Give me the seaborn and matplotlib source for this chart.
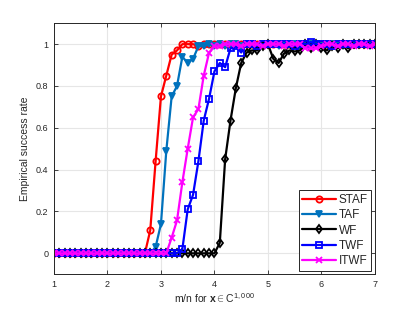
import numpy as np
import pandas as pd
import matplotlib
matplotlib.use("Agg")
import matplotlib.pyplot as plt
import seaborn as sns

m_over_n = [1.0, 1.1, 1.2, 1.3, 1.4, 1.5, 1.6, 1.7, 1.8, 1.9,
            2.0, 2.1, 2.2, 2.3, 2.4, 2.5, 2.6, 2.7, 2.8, 2.9,
            3.0, 3.1, 3.2, 3.3, 3.4, 3.5, 3.6, 3.7, 3.8, 3.9,
            4.0, 4.1, 4.2, 4.3, 4.4, 4.5, 4.6, 4.7, 4.8, 4.9,
            5.0, 5.1, 5.2, 5.3, 5.4, 5.5, 5.6, 5.7, 5.8, 5.9,
            6.0, 6.1, 6.2, 6.3, 6.4, 6.5, 6.6, 6.7, 6.8, 6.9, 7.0]

staf = [0, 0, 0, 0, 0, 0, 0, 0, 0, 0,
        0, 0, 0, 0, 0, 0, 0, 0, 0.11, 0.44,
        0.75, 0.85, 0.95, 0.97, 1.0, 1.0, 1.0, 0.99, 1.0, 1.0,
        1.0, 1.0, 1.0, 1.0, 1.0, 1.0, 1.0, 1.0, 1.0, 1.0,
        1.0, 1.0, 1.0, 1.0, 1.0, 1.0, 1.0, 1.0, 1.0, 1.0,
        1.0, 1.0, 1.0, 1.0, 1.0, 1.0, 1.0, 1.0, 1.0, 1.0, 1.0]

taf = [0, 0, 0, 0, 0, 0, 0, 0, 0, 0,
       0, 0, 0, 0, 0, 0, 0, 0, 0, 0.03,
       0.14, 0.49, 0.75, 0.80, 0.94, 0.91, 0.93, 0.99, 0.99, 1.0,
       0.99, 1.0, 0.99, 1.0, 1.0, 0.99, 1.0, 1.0, 0.99, 1.0,
       1.0, 1.0, 0.99, 1.0, 1.0, 1.0, 0.99, 1.0, 1.0, 1.0,
       0.99, 1.0, 1.0, 1.0, 0.99, 1.0, 1.0, 1.0, 1.0, 0.99, 1.0]

wf = [0, 0, 0, 0, 0, 0, 0, 0, 0, 0,
      0, 0, 0, 0, 0, 0, 0, 0, 0, 0,
      0, 0, 0, 0, 0, 0, 0, 0, 0, 0,
      0, 0.05, 0.45, 0.635, 0.79, 0.91, 0.96, 0.97, 0.97, 0.99,
      1.0, 0.93, 0.91, 0.955, 0.97, 0.965, 0.97, 1.0, 0.98, 1.0,
      0.98, 0.97, 0.99, 0.98, 1.0, 0.98, 1.0, 1.0, 1.0, 1.0, 1.0]

twf = [0, 0, 0, 0, 0, 0, 0, 0, 0, 0,
       0, 0, 0, 0, 0, 0, 0, 0, 0, 0,
       0, 0, 0, 0, 0.02, 0.21, 0.28, 0.44, 0.635, 0.74,
       0.87, 0.91, 0.89, 0.98, 0.99, 0.96, 1.0, 1.0, 0.99, 1.0,
       1.0, 1.0, 1.0, 1.0, 1.0, 0.99, 1.0, 1.0, 1.01, 1.0,
       1.0, 1.0, 0.99, 1.0, 1.0, 1.0, 1.0, 1.0, 1.0, 1.0, 1.0]

itwf = [0, 0, 0, 0, 0, 0, 0, 0, 0, 0,
        0, 0, 0, 0, 0, 0, 0, 0, 0, 0,
        0, 0, 0.075, 0.157, 0.34, 0.50, 0.65, 0.69, 0.85, 0.96,
        0.99, 0.99, 1.0, 1.0, 1.0, 0.99, 1.0, 1.0, 1.0, 0.99,
        1.0, 1.0, 1.0, 0.99, 1.0, 1.0, 1.0, 0.98, 0.98, 0.98,
        0.99, 1.0, 1.0, 0.99, 1.0, 1.0, 0.99, 1.0, 1.0, 0.99, 1.0]

series_names = ["STAF", "TAF", "WF", "TWF", "ITWF"]
series_values = [staf, taf, wf, twf, itwf]
colors = ["#FF0000", "#0072BD", "#000000", "#0000FF", "#FF00FF"]
markers = ["o", "v", "d", "s", "x"]
filled = [False, True, False, False, True]

x_ticks = [1, 2, 3, 4, 5, 6, 7]
y_ticks = [0, 0.2, 0.4, 0.6, 0.8, 1]
y_ticklabels = ["0", "0.2", "0.4", "0.6", "0.8", "1"]

sns.set_style("whitegrid")
plt.rcParams["font.family"] = ["Liberation Sans", "DejaVu Sans"]
plt.rcParams["mathtext.fontset"] = "custom"
plt.rcParams["mathtext.rm"] = "Liberation Sans"
plt.rcParams["mathtext.bf"] = "Liberation Sans:bold"

fig = plt.figure(figsize=(4.15, 3.12), dpi=100)
ax = fig.add_axes([0.130, 0.121, 0.7735, 0.8045])

for name, vals, c, m, f in zip(series_names, series_values, colors, markers, filled):
    df = pd.DataFrame({"x": m_over_n, "y": vals})
    kw = dict(color=c, marker=m, markersize=4.5 if m != "x" else 5,
              markeredgewidth=1.3, linewidth=1.6, label=name)
    kw["markerfacecolor"] = c if f else "none"
    kw["markeredgecolor"] = c
    sns.lineplot(data=df, x="x", y="y", ax=ax, **kw)

ax.set_xlim(1, 7)
ax.set_ylim(-0.1, 1.1)
ax.set_xticks(x_ticks)
ax.set_yticks(y_ticks)
ax.set_yticklabels(y_ticklabels)
ax.grid(True, color="#e6e6e6", linewidth=0.8)
for s in ax.spines.values():
    s.set_visible(True)
    s.set_color("#262626")
    s.set_linewidth(0.7)
ax.tick_params(direction="in", length=3, width=0.6, colors="#262626",
               labelsize=6.5, top=True, right=True, bottom=True, left=True,
               labelcolor="#262626", pad=4)
ax.set_xlabel(r"m/n for $\mathbf{x}\in$C$^{1,000}$", fontsize=7.5, color="#262626", labelpad=2)
ax.set_ylabel("Empirical success rate", fontsize=7.5, color="#262626", labelpad=4)

leg = ax.legend(loc="lower right", fontsize=8.5, frameon=True, fancybox=False,
                edgecolor="#262626", framealpha=1, borderpad=0.3,
                handlelength=2.9, labelspacing=0.28, handletextpad=0.2,
                borderaxespad=0.3)
leg.get_frame().set_linewidth(0.7)

fig.savefig("out.png", dpi=100)
